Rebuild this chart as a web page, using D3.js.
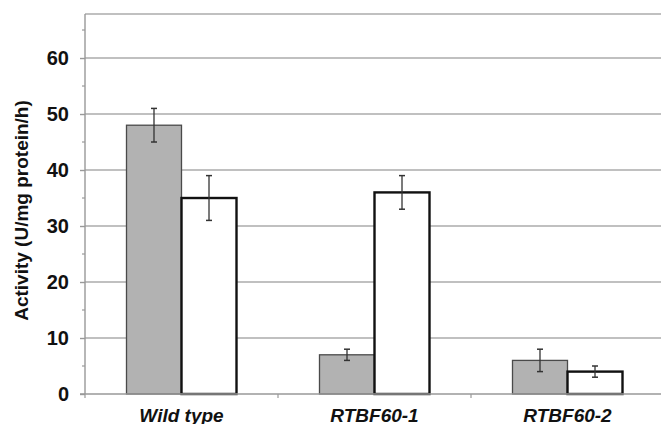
<!DOCTYPE html>
<html>
<head>
<meta charset="utf-8">
<script src="https://cdn.jsdelivr.net/npm/d3@7"></script>
<style>
  body { margin: 0; background: #fff; }
  text { font-family: "Liberation Sans", Arial, sans-serif; font-weight: bold; }
</style>
</head>
<body>
<div id="chart"></div>
<script>
// data
var categories = ["Wild type", "RTBF60-1", "RTBF60-2"];
var grayValues = [48, 7, 6];
var grayErrors = [3, 1, 2];
var whiteValues = [35, 36, 4];
var whiteErrors = [4, 3, 1];
var yTicks = [0, 10, 20, 30, 40, 50, 60];

var width = 661, height = 424;
var plotLeft = 85, plotRight = 661, plotTop = 14, plotBottom = 394;

var svg = d3.select("#chart").append("svg")
    .attr("width", width)
    .attr("height", height);

var y = d3.scaleLinear().domain([0, 67.86]).range([plotBottom, plotTop]);
// the plot runs past the right edge of the picture
var x = d3.scaleBand().domain(categories).range([plotLeft, 664]);
var barW = x.bandwidth() * 0.285;

// gridlines (incl. top border)
svg.selectAll(".grid")
   .data(yTicks.filter(function(d) { return d > 0; }).concat([67.86]))
   .enter().append("line")
   .attr("x1", plotLeft).attr("x2", plotRight)
   .attr("y1", function(d) { return y(d); })
   .attr("y2", function(d) { return y(d); })
   .attr("stroke", "#ababab")
   .attr("stroke-width", 1.6);

// y axis
var yAxis = svg.append("g")
    .attr("transform", "translate(" + plotLeft + ",0)")
    .call(d3.axisLeft(y).tickValues(yTicks).tickSize(5).tickPadding(11).tickFormat(d3.format("d")));
yAxis.select(".domain").attr("stroke", "#999").attr("stroke-width", 1.4).attr("d", "M0," + plotTop + "V" + plotBottom);
yAxis.selectAll(".tick line").attr("stroke", "#999").attr("stroke-width", 1.4);
yAxis.selectAll(".tick text").attr("font-size", "20px").attr("fill", "#111")
     .attr("font-family", "Liberation Sans, Arial, sans-serif").attr("font-weight", "bold");

// minor ticks
svg.selectAll(".minor")
   .data([5, 15, 25, 35, 45, 55, 65])
   .enter().append("line")
   .attr("x1", plotLeft - 3).attr("x2", plotLeft)
   .attr("y1", function(d) { return y(d); })
   .attr("y2", function(d) { return y(d); })
   .attr("stroke", "#999").attr("stroke-width", 1.2);

// gray bars
svg.selectAll(".gray")
   .data(grayValues)
   .enter().append("rect")
   .attr("x", function(d, i) { return x(categories[i]) + x.bandwidth() / 2 - barW; })
   .attr("y", function(d) { return y(d); })
   .attr("width", barW)
   .attr("height", function(d) { return y(0) - y(d); })
   .attr("fill", "#b2b2b2")
   .attr("stroke", "#4a4a4a")
   .attr("stroke-width", 1.3);

// white bars
svg.selectAll(".white")
   .data(whiteValues)
   .enter().append("rect")
   .attr("x", function(d, i) { return x(categories[i]) + x.bandwidth() / 2; })
   .attr("y", function(d) { return y(d); })
   .attr("width", barW)
   .attr("height", function(d) { return y(0) - y(d); })
   .attr("fill", "#fff")
   .attr("stroke", "#111")
   .attr("stroke-width", 2.4);

// x axis line and ticks
svg.append("line")
   .attr("x1", plotLeft - 5).attr("x2", plotRight)
   .attr("y1", plotBottom).attr("y2", plotBottom)
   .attr("stroke", "#999").attr("stroke-width", 1.4);
svg.selectAll(".xtick")
   .data(categories)
   .enter().append("line")
   .attr("x1", function(d) { return x(d); })
   .attr("x2", function(d) { return x(d); })
   .attr("y1", plotBottom).attr("y2", plotBottom + 4)
   .attr("stroke", "#999").attr("stroke-width", 1.2);

// error bars
function errorBars(vals, errs, offset) {
    var g = svg.append("g");
    vals.forEach(function(v, i) {
        var cx = x(categories[i]) + x.bandwidth() / 2 + offset;
        var y1 = y(v + errs[i]), y2 = y(v - errs[i]);
        g.append("line").attr("x1", cx).attr("x2", cx).attr("y1", y1).attr("y2", y2)
         .attr("stroke", "#333").attr("stroke-width", 1.3);
        [y1, y2].forEach(function(yy) {
            g.append("line").attr("x1", cx - 3).attr("x2", cx + 3).attr("y1", yy).attr("y2", yy)
             .attr("stroke", "#333").attr("stroke-width", 1.5);
        });
    });
}
errorBars(grayValues, grayErrors, -barW / 2);
errorBars(whiteValues, whiteErrors, barW / 2);

// category labels
svg.selectAll(".xlabel")
   .data(categories)
   .enter().append("text")
   .attr("x", function(d) { return x(d) + x.bandwidth() / 2; })
   .attr("y", 422)
   .attr("text-anchor", "middle")
   .attr("font-size", "19px")
   .attr("font-style", "italic")
   .attr("fill", "#111")
   .text(function(d) { return d; });

// y axis title
svg.append("text")
   .attr("transform", "translate(28,210.5) rotate(-90)")
   .attr("text-anchor", "middle")
   .attr("font-size", "19px")
   .attr("fill", "#111")
   .text("Activity (U/mg protein/h)");
</script>
</body>
</html>
